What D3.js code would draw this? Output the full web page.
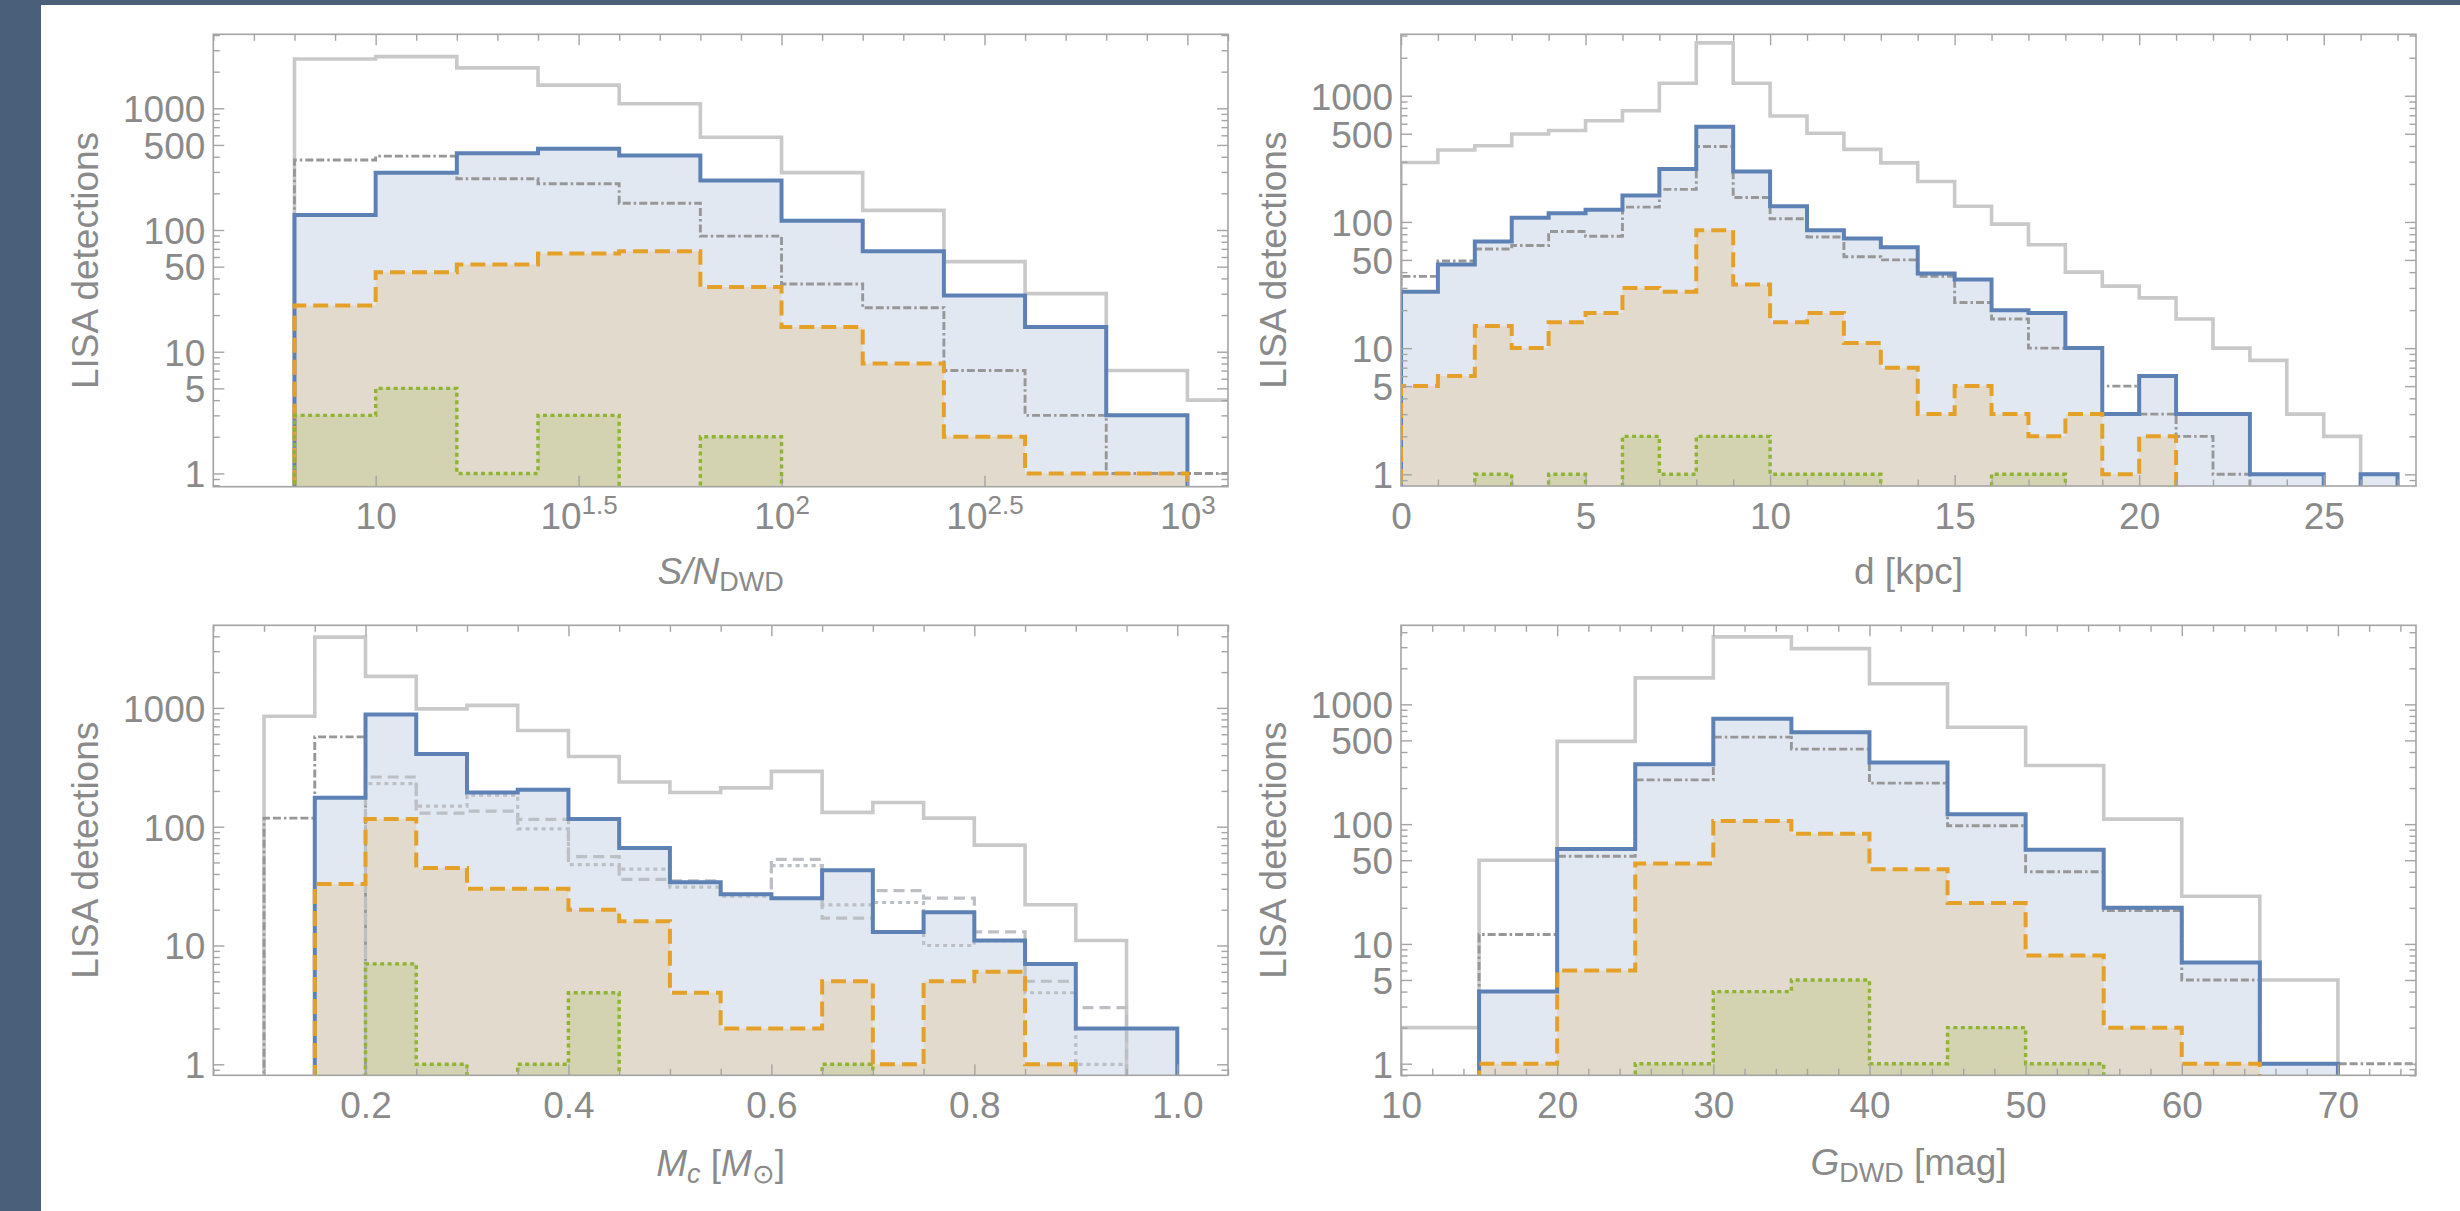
<!DOCTYPE html>
<html>
<head>
<meta charset="utf-8">
<script src="https://cdn.jsdelivr.net/npm/d3@7"></script>
<style>
  html, body { margin: 0; padding: 0; background: #fff; }
  svg { display: block; }
</style>
</head>
<body>
<svg id="chart" width="2460" height="1211"></svg>
<script>
// ---------- data: LISA detection histograms ----------

// S/N of DWDs: bin edges given as log10(S/N)
const snrEdgeExp = [0.8, 1.0, 1.2, 1.4, 1.6, 1.8, 2.0, 2.2, 2.4, 2.6, 2.8, 3.0, 3.2];
const snrAll     = [2540, 2660, 2150, 1550, 1090, 578, 296, 145, 55, 30, 7, 4];
const snrDashDot = [376, 405, 264, 240, 166, 89, 36, 23, 7, 3, 1, 1];
const snrBlue    = [133, 296, 428, 466, 409, 255, 119, 67, 29, 16, 3, 0];
const snrOrange  = [24, 45, 52, 64, 67, 34, 16, 8, 2, 1, 1, 0];
const snrGreen   = [3, 5, 1, 3, 0, 2, 0, 0, 0, 0, 0, 0];

// distance d [kpc]
const distEdges   = [0, 1, 2, 3, 4, 5, 6, 7, 8, 9, 10, 11, 12, 13, 14, 15, 16, 17, 18, 19, 20, 21, 22, 23, 24, 25, 26, 27];
const distAll     = [296, 372, 402, 498, 531, 634, 760, 1257, 2624, 1257, 690, 505, 376, 294, 209, 133, 96, 66, 40, 31, 25, 17, 10, 8, 3, 2, 1];
const distDashDot = [37, 49, 61, 65, 84, 77, 131, 181, 396, 156, 106, 76, 53, 50, 37, 23, 17, 10, 10, 5, 3, 2, 1, 0, 0, 0, 0];
const distBlue    = [28, 46, 70, 108, 117, 125, 162, 263, 567, 251, 133, 86, 74, 63, 39, 35, 20, 19, 10, 3, 6, 3, 3, 1, 1, 0, 1];
const distOrange  = [5, 6, 15, 10, 16, 19, 30, 28, 86, 32, 16, 19, 11, 7, 3, 5, 3, 2, 3, 1, 2, 0, 0, 0, 0, 0, 0];
const distGreen   = [0, 0, 1, 0, 1, 0, 2, 1, 2, 2, 1, 1, 1, 0, 0, 0, 1, 1, 0, 0, 0, 0, 0, 0, 0, 0, 0];

// chirp mass M_c [M_sun]
const mcEdges   = [0.10, 0.15, 0.20, 0.25, 0.30, 0.35, 0.40, 0.45, 0.50, 0.55, 0.60, 0.65, 0.70, 0.75, 0.80, 0.85, 0.90, 0.95, 1.00];
const mcAll     = [850, 3940, 1840, 980, 1050, 645, 390, 238, 194, 212, 292, 132, 160, 118, 70, 22, 11, 0];
const mcDashDot = [118, 570, 0, 0, 0, 0, 0, 0, 0, 0, 0, 0, 0, 0, 0, 0, 0, 0];
const mcDashed  = [0, 0, 262, 130, 135, 115, 56, 36, 35, 27, 53, 17, 29, 25, 13, 5, 3, 0];
const mcDotted  = [0, 0, 230, 149, 184, 96, 48, 44, 31, 26, 47, 22, 23, 10, 11, 4, 1, 0];
const mcBlue    = [0, 175, 880, 409, 194, 205, 116, 66, 34, 27, 25, 43, 13, 19, 11, 7, 2, 2];
const mcOrange  = [0, 33, 116, 45, 30, 30, 20, 16, 4, 2, 2, 5, 1, 5, 6, 1, 0, 0];
const mcGreen   = [0, 0, 7, 1, 0, 1, 4, 0, 0, 0, 0, 1, 0, 0, 0, 0, 0, 0];

// Gaia magnitude G_DWD [mag]
const gEdges   = [10, 15, 20, 25, 30, 35, 40, 45, 50, 55, 60, 65, 70, 75];
const gAll     = [2, 50, 491, 1663, 3655, 2918, 1486, 643, 309, 110, 25, 5, 0];
const gDashDot = [0, 12, 54, 234, 533, 423, 220, 97, 40, 19, 5, 1, 1];
const gBlue    = [0, 4, 62, 316, 758, 584, 327, 121, 61, 20, 7, 1, 0];
const gOrange  = [0, 1, 6, 47, 106, 83, 42, 22, 8, 2, 1, 0, 0];
const gGreen   = [0, 0, 0, 1, 4, 5, 1, 2, 1, 0, 0, 0, 0];

// tick labels
const snrTickExp = [1, 1.5, 2, 2.5, 3];
const distTicks  = [0, 5, 10, 15, 20, 25];
const mcTicks    = [0.2, 0.4, 0.6, 0.8, 1.0];
const gTicks     = [10, 20, 30, 40, 50, 60, 70];
const yTicksMain = [1, 5, 10, 50, 100, 500, 1000];
const yTicksMc   = [1, 10, 100, 1000];

// ---------- styling ----------
const FONT = '"Liberation Sans", Arial, Helvetica, sans-serif';
const TEXT = '#8a8a8a';
const FRAME = '#a4a4a4';
const C_ALL = '#c9c9c9';
const C_DD = '#979797';
const C_LIGHT = '#bcbfc4';
const C_BLUE = '#5e81b5';
const C_ORANGE = '#e5a127';
const C_GREEN = '#8fb332';

const lineStyle = {
  all:     { stroke: C_ALL, width: 3.6 },
  dashDot: { stroke: C_DD, width: 2.9, dash: '8,3,8,3,2.5,3' },
  dashed:  { stroke: C_LIGHT, width: 3.2, dash: '11,6' },
  dotted:  { stroke: C_LIGHT, width: 3.2, dash: '4,4' },
  blue:    { stroke: C_BLUE, width: 4 },
  orange:  { stroke: C_ORANGE, width: 4, dash: '15,7' },
  green:   { stroke: C_GREEN, width: 3.4, dash: '4,3.5' }
};
const fillOrder = [['blue', C_BLUE], ['orange', C_ORANGE], ['green', C_GREEN]];
const lineOrder = ['all', 'dashDot', 'dashed', 'dotted', 'blue', 'orange', 'green'];

const logMinor = (lo, hi) => {
  const out = [];
  for (let e = -1; e <= 4; e++) for (let k = 1; k <= 9; k++) {
    const v = k * Math.pow(10, e);
    if (v >= lo && v <= hi) out.push(v);
  }
  return out;
};

const panels = [
  {
    box: [213.3, 34.3, 1228, 486.7],
    xLog: true, xDomain: [Math.pow(10, 0.6), Math.pow(10, 3.1)],
    yDomain: [0.778, 4055],
    edges: snrEdgeExp.map(e => Math.pow(10, e)),
    series: { all: snrAll, dashDot: snrDashDot, blue: snrBlue, orange: snrOrange, green: snrGreen },
    xMajor: snrTickExp.map(e => Math.pow(10, e)),
    xLabel: snrTickExp,
    xMinor: d3.range(6, 32).map(k => Math.pow(10, k / 10)),
    bottomMinor: false,
    yMajor: yTicksMain,
    titleY: 584,
    title: [{ t: 'S/N', italic: true }, { t: 'DWD', sub: true }]
  },
  {
    box: [1401, 34.3, 2416, 486],
    xLog: false, xDomain: [0, 27.5],
    yDomain: [0.808, 3068],
    edges: distEdges,
    series: { all: distAll, dashDot: distDashDot, blue: distBlue, orange: distOrange, green: distGreen },
    xMajor: distTicks,
    xMinor: d3.range(0, 28),
    bottomMinor: true,
    yMajor: yTicksMain,
    titleY: 584,
    title: [{ t: 'd [kpc]' }]
  },
  {
    box: [213.3, 625.3, 1228, 1075.3],
    xLog: false, xDomain: [0.05, 1.05],
    yDomain: [0.808, 4955],
    edges: mcEdges,
    series: { all: mcAll, dashDot: mcDashDot, dashed: mcDashed, dotted: mcDotted, blue: mcBlue, orange: mcOrange, green: mcGreen },
    xMajor: mcTicks,
    xMinor: d3.range(1, 22).map(k => k * 0.05),
    bottomMinor: true,
    yMajor: yTicksMc,
    titleY: 1176,
    title: [{ t: 'M', italic: true }, { t: 'c', italic: true, sub: true }, { t: ' [' }, { t: 'M', italic: true }, { t: '\u2299', sub: true }, { t: ']' }]
  },
  {
    box: [1401, 625.3, 2416, 1075.3],
    xLog: false, xDomain: [10, 75],
    yDomain: [0.80, 4570],
    edges: gEdges,
    series: { all: gAll, dashDot: gDashDot, blue: gBlue, orange: gOrange, green: gGreen },
    xMajor: gTicks,
    xMinor: d3.range(10, 76, 2),
    bottomMinor: true,
    yMajor: yTicksMain,
    titleY: 1175,
    title: [{ t: 'G', italic: true }, { t: 'DWD', sub: true }, { t: ' [mag]' }]
  }
];

const svg = d3.select('#chart');
svg.append('rect').attr('width', 2460).attr('height', 1211).attr('fill', '#fff');
svg.append('rect').attr('x', 0).attr('y', 0).attr('width', 41).attr('height', 1211).attr('fill', '#4a5f7a');
svg.append('rect').attr('x', 0).attr('y', 0).attr('width', 2460).attr('height', 5).attr('fill', '#4a5f7a');

// outline of a histogram as a step curve that starts and ends below the frame
function stepPath(edges, vals, x, y, base, closed) {
  const p = d3.path();
  p.moveTo(x(edges[0]), base);
  vals.forEach((v, i) => {
    const yy = v > 0 ? y(v) : base;
    p.lineTo(x(edges[i]), yy);
    p.lineTo(x(edges[i + 1]), yy);
  });
  p.lineTo(x(edges[vals.length]), base);
  if (closed) p.closePath();
  return p.toString();
}

function styleAxis(sel) {
  sel.select('.domain').remove();
  sel.attr('color', FRAME).attr('font-family', FONT).attr('font-size', 37);
  sel.selectAll('line').attr('stroke-width', 1.4);
  sel.selectAll('text').attr('fill', TEXT);
  // tick-only axes carry no labels
  sel.selectAll('text').filter(function () { return !this.textContent; }).remove();
  return sel;
}

panels.forEach((p, idx) => {
  const [x0, y0, x1, y1] = p.box;
  const x = (p.xLog ? d3.scaleLog() : d3.scaleLinear()).domain(p.xDomain).range([x0, x1]);
  const y = d3.scaleLog().domain(p.yDomain).range([y1, y0]);
  const g = svg.append('g');
  const clipId = 'plotclip' + idx;
  g.append('clipPath').attr('id', clipId)
    .append('rect').attr('x', x0).attr('y', y0).attr('width', x1 - x0).attr('height', y1 - y0);
  const plot = g.append('g').attr('clip-path', `url(#${clipId})`);
  const base = y1 + 20;

  // translucent fills to the bottom of the frame
  fillOrder.forEach(([key, col]) => {
    if (!p.series[key]) return;
    plot.append('path')
      .attr('d', stepPath(p.edges, p.series[key], x, y, base, true))
      .attr('fill', col).attr('fill-opacity', 0.18).attr('stroke', 'none');
  });
  // step outlines
  lineOrder.forEach(key => {
    if (!p.series[key]) return;
    const st = lineStyle[key];
    plot.append('path')
      .attr('d', stepPath(p.edges, p.series[key], x, y, base, false))
      .attr('fill', 'none').attr('stroke', st.stroke).attr('stroke-width', st.width)
      .attr('stroke-dasharray', st.dash || null)
      .attr('stroke-linejoin', 'miter').attr('stroke-linecap', 'butt');
  });

  // frame ticks (pointing inward)
  const xMinor = p.xMinor.filter(v => !p.xMajor.some(m => Math.abs(m - v) < 1e-9));
  const yMinor = logMinor(p.yDomain[0], p.yDomain[1]).filter(v => !p.yMajor.includes(v));

  // bottom, labelled
  const bottom = styleAxis(g.append('g').attr('transform', `translate(0,${y1})`)
    .call(d3.axisBottom(x).tickValues(p.xMajor).tickSize(-11).tickSizeOuter(0)
      .tickFormat(p.xMajor === mcTicks ? d3.format('.1f') : d3.format('d'))));
  bottom.selectAll('text').attr('y', 42.5).attr('dy', null);
  if (p.xLog) {
    bottom.selectAll('text').each(function (d, i) {
      const ex = p.xLabel[i];
      const t = d3.select(this).text('');
      t.append('tspan').text('10');
      if (ex !== 1) t.append('tspan').attr('dy', -15).attr('font-size', 26).text(String(ex));
    });
  }
  if (p.bottomMinor) {
    styleAxis(g.append('g').attr('transform', `translate(0,${y1})`)
      .call(d3.axisBottom(x).tickValues(xMinor).tickSize(-6.5).tickSizeOuter(0).tickFormat('')));
  }
  // top
  styleAxis(g.append('g').attr('transform', `translate(0,${y0})`)
    .call(d3.axisTop(x).tickValues(p.xMajor).tickSize(-11).tickSizeOuter(0).tickFormat('')));
  styleAxis(g.append('g').attr('transform', `translate(0,${y0})`)
    .call(d3.axisTop(x).tickValues(xMinor).tickSize(-6.5).tickSizeOuter(0).tickFormat('')));
  // left, labelled
  const left = styleAxis(g.append('g').attr('transform', `translate(${x0},0)`)
    .call(d3.axisLeft(y).tickValues(p.yMajor).tickSize(-11).tickSizeOuter(0).tickPadding(8).tickFormat(d3.format('d'))));
  left.selectAll('text').attr('dy', '0.36em');
  styleAxis(g.append('g').attr('transform', `translate(${x0},0)`)
    .call(d3.axisLeft(y).tickValues(yMinor).tickSize(-6.5).tickSizeOuter(0).tickFormat('')));
  // right
  styleAxis(g.append('g').attr('transform', `translate(${x1},0)`)
    .call(d3.axisRight(y).tickValues(p.yMajor).tickSize(-11).tickSizeOuter(0).tickFormat('')));
  styleAxis(g.append('g').attr('transform', `translate(${x1},0)`)
    .call(d3.axisRight(y).tickValues(yMinor).tickSize(-6.5).tickSizeOuter(0).tickFormat('')));

  // frame
  g.append('rect').attr('x', x0).attr('y', y0).attr('width', x1 - x0).attr('height', y1 - y0)
    .attr('fill', 'none').attr('stroke', FRAME).attr('stroke-width', 1.6);

  // axis titles
  g.append('text')
    .attr('transform', `translate(${x0 - 115},${(y0 + y1) / 2}) rotate(-90)`)
    .attr('text-anchor', 'middle').attr('font-family', FONT).attr('font-size', 37).attr('fill', TEXT)
    .text('LISA detections');

  const xt = g.append('text')
    .attr('x', (x0 + x1) / 2).attr('y', p.titleY)
    .attr('text-anchor', 'middle').attr('font-family', FONT).attr('font-size', 37).attr('fill', TEXT);
  let shifted = false;
  p.title.forEach(part => {
    const ts = xt.append('tspan').text(part.t);
    if (part.italic) ts.attr('font-style', 'italic');
    if (part.sub) {
      ts.attr('font-size', 27);
      if (!shifted) { ts.attr('dy', 7); shifted = true; }
    } else if (shifted) {
      ts.attr('dy', -7); shifted = false;
    }
  });
});
</script>
</body>
</html>
